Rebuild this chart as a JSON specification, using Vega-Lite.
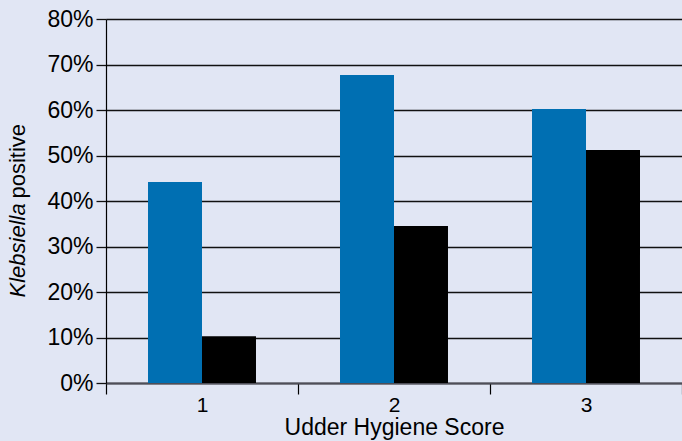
{
  "$schema": "https://vega.github.io/schema/vega-lite/v6.json",
  "width": 576,
  "height": 364,
  "autosize": "none",
  "padding": {"left": 106, "top": 19, "right": 0, "bottom": 58},
  "background": "#e1e6f4",
  "config": {
    "view": {"stroke": null},
    "font": "Liberation Sans",
    "axis": {"labelFont": "Liberation Sans", "titleFont": "Liberation Sans", "labelColor": "#000", "titleColor": "#000", "labelFontSize": 23, "titleFontSize": 22, "titleFontWeight": "normal"}
  },
  "data": {
    "values": [
      {"score": "1", "series": "A", "value": 0.442},
      {"score": "2", "series": "A", "value": 0.677},
      {"score": "3", "series": "A", "value": 0.602},
      {"score": "1", "series": "B", "value": 0.103},
      {"score": "2", "series": "B", "value": 0.345},
      {"score": "3", "series": "B", "value": 0.512}
    ]
  },
  "encoding": {
    "x": {
      "field": "score", "type": "nominal",
      "scale": {"paddingInner": 0, "paddingOuter": 0},
      "axis": {
        "title": "Udder Hygiene Score", "labelAngle": 0, "titleFontSize": 23, "labelFontSize": 21,
        "domain": true, "domainColor": "#4e4e58", "domainWidth": 2,
        "ticks": true, "tickBand": "extent", "tickSize": 11, "tickColor": "#000", "tickWidth": 1.2,
        "labelPadding": 0, "titlePadding": 1, "grid": false
      }
    },
    "xOffset": {"field": "series", "type": "nominal", "scale": {"domain": ["A", "B"], "paddingInner": 0, "paddingOuter": 0.778}},
    "color": {"field": "series", "type": "nominal", "scale": {"domain": ["A", "B"], "range": ["#006fb2", "#000000"]}, "legend": null}
  },
  "layer": [
    {
      "transform": [{"filter": "datum.series == 'A'"}],
      "mark": {"type": "bar"},
      "encoding": {
        "y": {
          "field": "value", "type": "quantitative",
          "scale": {"domain": [0, 0.8], "nice": false},
          "axis": {
            "orient": "left", "format": "%", "values": [0, 0.1, 0.2, 0.3, 0.4, 0.5, 0.6, 0.7, 0.8],
            "grid": true, "gridColor": "#111", "gridWidth": 1.3,
            "domain": true, "domainColor": "#000", "domainWidth": 1.2,
            "ticks": true, "tickSize": 10, "tickColor": "#111", "tickWidth": 1.3,
            "labelPadding": 3,
            "title": "Klebsiella", "titleFontStyle": "italic", "titleAngle": -90,
            "titleX": -82, "titleY": 278, "titleAlign": "left", "titleBaseline": "alphabetic"
          }
        }
      }
    },
    {
      "transform": [{"filter": "datum.series == 'B'"}],
      "mark": {"type": "bar"},
      "encoding": {
        "y": {
          "field": "value", "type": "quantitative",
          "axis": {
            "orient": "right", "labels": false, "ticks": false, "domain": false, "grid": false,
            "title": "positive", "titleAngle": -90,
            "titleX": -658, "titleY": 179, "titleAlign": "left", "titleBaseline": "alphabetic"
          }
        }
      }
    }
  ],
  "resolve": {"axis": {"y": "independent"}}
}
